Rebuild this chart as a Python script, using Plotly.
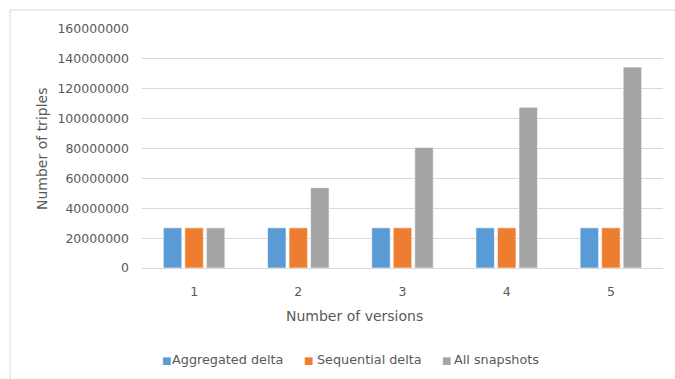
import plotly.graph_objects as go

# Triple counts per number of versions for each storage strategy
versions = ["1", "2", "3", "4", "5"]
aggregated_delta = [26900000, 26900000, 26900000, 26900000, 26900000]
sequential_delta = [26900000, 26900000, 26900000, 26900000, 26900000]
all_snapshots = [26900000, 53800000, 80700000, 107600000, 134500000]

series = [
    ("Aggregated delta", aggregated_delta, "#5B9BD5"),
    ("Sequential delta", sequential_delta, "#ED7D31"),
    ("All snapshots", all_snapshots, "#A5A5A5"),
]

font_family = "DejaVu Sans"
text_color = "#595959"

# plot area in pixels: left 142, right 663, top 29, bottom 268
PL, PR, PT, PB = 142, 663, 29, 268


def px_x(x):
    return (x - PL) / (PR - PL)


def px_y(y):
    return (PB - y) / (PB - PT)


fig = go.Figure()
for name, values, color in series:
    fig.add_trace(go.Bar(
        x=versions, y=values, name=name, showlegend=False,
        marker=dict(color=color, line=dict(color="rgba(255,255,255,0.6)", width=1)),
    ))

annotations = [
    dict(text="Number of versions", xref="paper", yref="paper",
         x=px_x(354), y=px_y(316), xanchor="center", yanchor="middle",
         showarrow=False, font=dict(size=14, color=text_color)),
    dict(text="Number of triples", xref="paper", yref="paper",
         x=px_x(42), y=px_y(149), xanchor="center", yanchor="middle",
         textangle=-90, showarrow=False,
         font=dict(size=14, color=text_color)),
]

# legend row beneath the axis title: small coloured square followed by the name
legend_slots = [(161, 171), (303, 316), (441, 453)]
for (name, _, color), (sq_x, txt_x) in zip(series, legend_slots):
    annotations.append(dict(
        text="■", xref="paper", yref="paper", x=px_x(sq_x - 1), y=px_y(360),
        xanchor="left", yanchor="middle", showarrow=False,
        font=dict(size=10, color=color, family=font_family),
    ))
    annotations.append(dict(
        text=name, xref="paper", yref="paper", x=px_x(txt_x - 1), y=px_y(359),
        xanchor="left", yanchor="middle", showarrow=False,
        font=dict(size=12.8, color=text_color, family=font_family),
    ))

fig.update_layout(
    width=675, height=379,
    margin=dict(l=PL, r=675 - PR, t=PT, b=379 - PB, autoexpand=False),
    paper_bgcolor="white", plot_bgcolor="white",
    barmode="group", bargap=0.38, bargroupgap=0.14,
    font=dict(family=font_family, size=12.5, color=text_color),
    showlegend=False,
    xaxis=dict(
        showgrid=False, showline=False, zeroline=False,
        ticks="", ticklabelstandoff=14,
        tickfont=dict(size=12.5, color=text_color),
    ),
    yaxis=dict(
        range=[0, 160000000], dtick=20000000, tickformat="d",
        showgrid=True, gridcolor="#D9D9D9", gridwidth=1,
        zeroline=True, zerolinecolor="#D9D9D9", zerolinewidth=1,
        showline=False, ticks="", ticklabelstandoff=12,
        tickfont=dict(size=12.5, color=text_color),
    ),
    annotations=annotations,
    shapes=[
        # chart-area border along the top and left edges
        dict(type="line", xref="paper", yref="paper",
             x0=px_x(10), x1=px_x(676), y0=px_y(10), y1=px_y(10),
             line=dict(color="#D9D9D9", width=1)),
        dict(type="line", xref="paper", yref="paper",
             x0=px_x(10), x1=px_x(10), y0=px_y(10), y1=px_y(380),
             line=dict(color="#D9D9D9", width=1)),
    ],
)

fig.write_html("out.html")
